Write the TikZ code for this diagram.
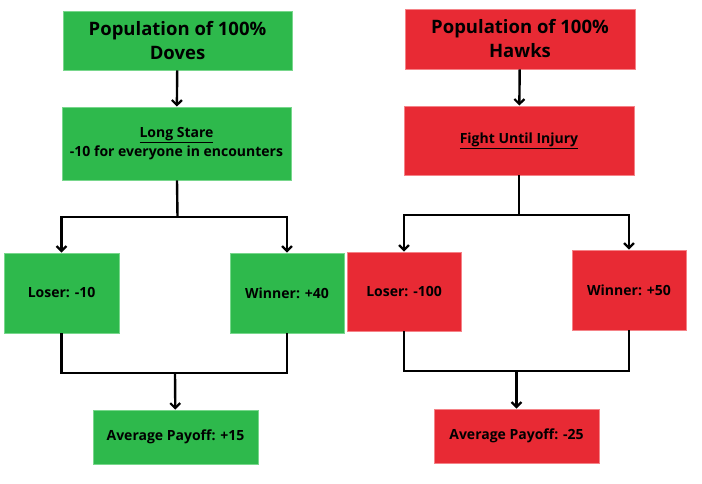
\documentclass[tikz,border=0pt]{standalone}
\usepackage{fontspec}
\setmainfont{Open Sans}
\usetikzlibrary{arrows.meta}
\definecolor{dgreen}{RGB}{46,185,76}
\definecolor{dgreenb}{RGB}{120,215,140}
\definecolor{hred}{RGB}{232,42,52}
\definecolor{hredb}{RGB}{245,130,135}
\newcommand{\ulin}[1]{\underline{\smash{#1}\vphantom{y}}}
\tikzset{
  box/.style={rectangle, inner sep=2pt, align=center, font=\bfseries, line width=0.8pt},
  dbox/.style={box, fill=dgreen, draw=dgreenb},
  hbox/.style={box, fill=hred, draw=hredb},
  conn/.style={line width=2.4pt, line join=miter},
  arr/.style={conn, -{Straight Barb[length=5pt,width=10pt,line width=2.2pt]}},
  big/.style={font=\fontsize{18.5}{24}\selectfont\bfseries},
  mid/.style={font=\fontsize{14}{19}\selectfont\bfseries},
}
\begin{document}
\begin{tikzpicture}[x=1pt,y=-1pt]
\useasboundingbox (0,0) rectangle (702,484);
\fill[white] (0,0) rectangle (702,484);
% Doves
\node[dbox,big,minimum width=229pt,minimum height=59pt] (dtop) at (177.5,40.5) {Population of 100\%\\Doves};
\node[dbox,mid,minimum width=229pt,minimum height=73pt] (dmid) at (176.5,143.5) {\underline{Long Stare}\\-10 for everyone in encounters};
\node[dbox,mid,minimum width=115pt,minimum height=80pt] (dlose) at (61.5,293) {Loser: -10};
\node[dbox,mid,minimum width=114pt,minimum height=80pt] (dwin) at (287,293) {Winner: +40};
\node[dbox,mid,minimum width=165pt,minimum height=54pt] (davg) at (175.5,437) {Average Payoff: +15};
\coordinate (dj) at (177.5,217);
\coordinate (db) at (175,373);
% Hawks
\node[hbox,big,minimum width=230pt,minimum height=60pt] (htop) at (520,39) {Population of 100\%\\Hawks};
\node[hbox,mid,minimum width=230pt,minimum height=69pt] (hmid) at (519,140.5) {\underline{Fight Until Injury}};
\node[hbox,mid,minimum width=114pt,minimum height=79pt] (hlose) at (404,291.5) {Loser: -100};
\node[hbox,mid,minimum width=114pt,minimum height=80pt] (hwin) at (629,290) {Winner: +50};
\node[hbox,mid,minimum width=165pt,minimum height=54pt] (havg) at (516.5,436) {Average Payoff: -25};
\coordinate (hj) at (519,215);
\coordinate (hb) at (516.5,371);
% connectors doves
\draw[arr] (dtop) -- (dmid);
\draw[conn] (dmid) -- (dj);
\draw[arr] (dj) -| (dlose);
\draw[arr] (dj) -| (dwin);
\draw[conn] (dlose) |- (db);
\draw[conn] (dwin) |- (db);
\draw[arr] (db) -- (davg);
% connectors hawks
\draw[arr] (htop) -- (hmid);
\draw[conn] (hmid) -- (hj);
\draw[arr] (hj) -| (hlose);
\draw[arr] (hj) -| (hwin);
\draw[conn] (hlose) |- (hb);
\draw[conn] (hwin) |- (hb);
\draw[arr] (hb) -- (havg);
\end{tikzpicture}
\end{document}
